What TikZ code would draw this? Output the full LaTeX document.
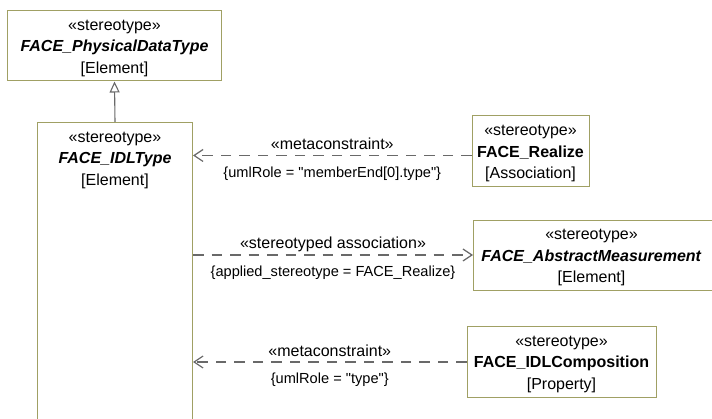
\documentclass[tikz,border=0pt]{standalone}
\usepackage{fontspec}
\setmainfont{Liberation Sans}
\newfontfamily\plainsans{Liberation Sans}
\usetikzlibrary{arrows.meta}
\definecolor{boxline}{RGB}{160,160,100}
\definecolor{conn}{RGB}{105,105,105}
\tikzset{
  umlbox/.style={draw=boxline, line width=1pt, fill=white, inner sep=0pt},
  boxtext/.style={inner sep=0pt, align=center, font=\fontsize{16}{21.5}\selectfont},
  depline/.style={draw=conn, line width=1.2pt, dash pattern=on 10.5pt off 8pt},
  openhead/.style={-{Straight Barb[length=9pt,width=12pt]}},
  stlabel/.style={font=\fontsize{16}{19}\selectfont, inner sep=0pt, anchor=base},
  cnlabel/.style={font=\plainsans\fontsize{14.6}{17}\selectfont, inner sep=0pt, anchor=base},
}
\begin{document}
\begin{tikzpicture}[x=1pt,y=-1pt]
\path[use as bounding box] (0,0) rectangle (712,419);
\clip (0,0) rectangle (712,419);

\node[umlbox, minimum width=214, minimum height=70] (phys) at (114.5,46) {};
\node[boxtext] (phystext) at ([yshift=-2pt]phys.center)
  {«stereotype»\\\textbf{\textit{FACE\_PhysicalDataType}}\\{[Element]}};

\node[umlbox, minimum width=155, minimum height=330, anchor=north west] (idl) at (37,122) {};
\node[boxtext, anchor=north] (idltext) at ([yshift=-9.5pt]idl.north)
  {«stereotype»\\\textbf{\textit{FACE\_IDLType}}\\{[Element]}};

\node[umlbox, minimum width=117, minimum height=71] (realize) at (530.5,151.5) {};
\node[boxtext] (realizetext) at ([yshift=-2pt]realize.center)
  {«stereotype»\\\textbf{FACE\_Realize}\\{[Association]}};

\node[umlbox, minimum width=250, minimum height=70, anchor=west] (abs) at (473,256) {};
\node[boxtext] (abstext) at (591.5,257.5)
  {«stereotype»\\\textbf{\textit{FACE\_AbstractMeasurement}}\\{[Element]}};

\node[umlbox, minimum width=189, minimum height=70] (comp) at (561.5,362) {};
\node[boxtext] (comptext) at ([yshift=-2pt]comp.center)
  {«stereotype»\\\textbf{FACE\_IDLComposition}\\{[Property]}};

% generalization
\draw[draw=conn, line width=1.1pt, -{Triangle[open,length=11pt,width=10pt]}] (idl.north) -- (phys.south);

% connector 1
\coordinate (c1) at ([yshift=-4pt]realize.west);
\draw[depline, openhead] (c1) -- (c1 -| idl.east)
  node[midway, stlabel, yshift=6pt] (l1a) {«metaconstraint»}
  node[midway, cnlabel, yshift=-22pt] (l1b) {\{umlRole = "memberEnd[0].type"\}};

% connector 2
\coordinate (c2) at ([yshift=1pt]abs.west);
\draw[depline, openhead] (c2 -| idl.east) -- (c2)
  node[midway, stlabel, yshift=6pt] (l2a) {«stereotyped association»}
  node[midway, cnlabel, yshift=-22pt] (l2b) {\{applied\_stereotype = FACE\_Realize\}};

% connector 3
\draw[depline, openhead] (comp.west) -- (comp.west -| idl.east)
  node[midway, stlabel, yshift=5.5pt] (l3a) {«metaconstraint»}
  node[midway, cnlabel, yshift=-22pt] (l3b) {\{umlRole = "type"\}};
\end{tikzpicture}
\end{document}
